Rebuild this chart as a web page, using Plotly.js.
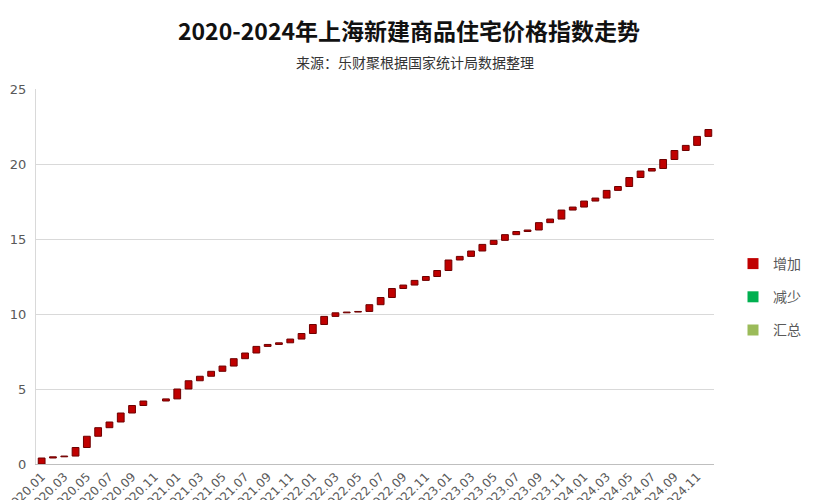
<!DOCTYPE html>
<html>
<head>
<meta charset="utf-8">
<script src="https://cdn.plot.ly/plotly-3.0.1.min.js"></script>
<style>html,body{margin:0;padding:0;background:#fff;}#chart{width:818px;height:500px;}</style>
</head>
<body>
<div id="chart"></div>
<script>
// Months 2020.01 - 2024.12
var months = [];
for (var yr = 2020; yr <= 2024; yr++) {
  for (var m = 1; m <= 12; m++) {
    months.push(yr + '.' + (m < 10 ? '0' + m : m));
  }
}
// Monthly change (index points)
var changes2020 = [0.40, 0.08, 0.05, 0.57, 0.75, 0.57, 0.38, 0.60, 0.50, 0.30, 0.00, 0.14];
var changes2021 = [0.66, 0.55, 0.30, 0.33, 0.35, 0.49, 0.38, 0.44, 0.13, 0.11, 0.25, 0.37];
var changes2022 = [0.60, 0.54, 0.24, 0.05, 0.04, 0.45, 0.48, 0.60, 0.23, 0.31, 0.26, 0.40];
var changes2023 = [0.70, 0.24, 0.36, 0.44, 0.27, 0.38, 0.21, 0.10, 0.49, 0.24, 0.60, 0.20];
var changes2024 = [0.40, 0.20, 0.51, 0.26, 0.60, 0.43, 0.17, 0.60, 0.60, 0.34, 0.60, 0.46];
var changes = changes2020.concat(changes2021, changes2022, changes2023, changes2024);

var legendNames = ['增加', '减少', '汇总'];
var legendColors = ['#C00000', '#00B050', '#9BBB59'];

var tickFont = {family: 'DejaVu Sans, Verdana, sans-serif', size: 12, color: '#595959'};

var traces = [{
  type: 'waterfall',
  x: months,
  y: changes,
  measure: months.map(function(){ return 'relative'; }),
  increasing: {marker: {color: legendColors[0], line: {color: '#6E0000', width: 1}}},
  decreasing: {marker: {color: legendColors[1]}},
  totals: {marker: {color: legendColors[2]}},
  connector: {visible: false},
  width: 0.6,
  showlegend: false,
  hoverinfo: 'x+y'
}];
legendNames.forEach(function(n, i){
  traces.push({
    type: 'scatter', mode: 'markers', x: [null], y: [null], name: n,
    legendgroup: 'g' + i,
    marker: {symbol: 'square', size: 11, color: legendColors[i]},
    hoverinfo: 'skip'
  });
});

var layout = {
  width: 818, height: 500,
  paper_bgcolor: '#fff', plot_bgcolor: '#fff',
  margin: {l: 36, r: 104, t: 89, b: 36, autoexpand: false},
  title: {
    text: '<b>2020-2024年上海新建商品住宅价格指数走势</b>',
    font: {family: 'Noto Sans CJK SC, sans-serif', size: 23, color: '#111'},
    x: 0.5, xanchor: 'center', xref: 'container',
    y: 1 - 32/500, yanchor: 'middle', yref: 'container'
  },
  annotations: [{
    text: '来源：乐财聚根据国家统计局数据整理',
    xref: 'paper', yref: 'paper', x: (415 - 36) / 678, y: (464 - 62) / 375,
    xanchor: 'center', yanchor: 'middle', showarrow: false,
    font: {family: 'Noto Sans CJK SC, sans-serif', size: 14, color: '#333'}
  }],
  xaxis: {
    type: 'category',
    tickmode: 'linear', tick0: 0, dtick: 2,
    tickangle: -45,
    tickfont: tickFont,
    showline: true, linecolor: '#BFBFBF', linewidth: 1,
    ticks: '', showgrid: false, automargin: false,
    fixedrange: true
  },
  yaxis: {
    range: [0, 25], dtick: 5,
    tickfont: {family: 'DejaVu Sans, Verdana, sans-serif', size: 13, color: '#595959'},
    gridcolor: '#D9D9D9', gridwidth: 1,
    showline: true, linecolor: '#D9D9D9',
    zeroline: false, ticks: '', automargin: false,
    ticklabelstandoff: 6
  },
  showlegend: true,
  legend: {
    xref: 'container', yref: 'container',
    x: 733 / 818, xanchor: 'left', y: 1 - 297 / 500, yanchor: 'middle',
    font: {family: 'Noto Sans CJK SC, sans-serif', size: 14, color: '#595959'},
    tracegroupgap: 12,
    itemwidth: 30
  }
};

Plotly.newPlot('chart', traces, layout, {displayModeBar: false, staticPlot: true});
</script>
</body>
</html>
